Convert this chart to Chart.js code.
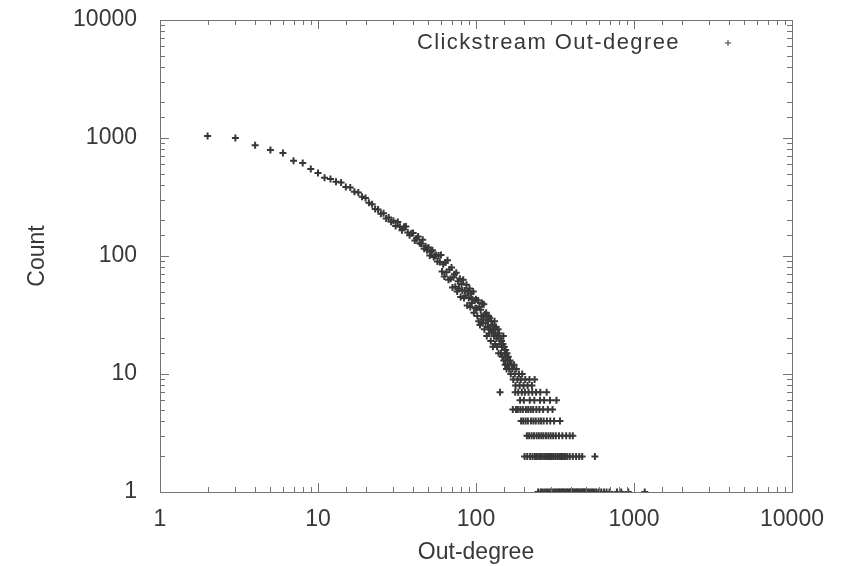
<!DOCTYPE html>
<html>
<head>
<meta charset="utf-8">
<script src="https://cdn.jsdelivr.net/npm/chart.js@4/dist/chart.umd.min.js"></script>
<style>
  html, body { margin: 0; padding: 0; background: #fff; }
  #chart { display: block; }
</style>
</head>
<body>
<canvas id="chart" width="842" height="566"></canvas>
<script>
// Out-degree 2..100, one count per degree
const headDegree = [
    2, 3, 4, 5, 6, 7, 8, 9, 10, 11, 12, 13, 14, 15, 16, 17, 18, 19, 20,
    21, 22, 23, 24, 25, 26, 27, 28, 29, 30, 31, 32, 33, 34, 35, 36, 37, 38, 39, 40,
    41, 42, 43, 44, 45, 46, 47, 48, 49, 50, 51, 52, 53, 54, 55, 56, 57, 58, 59, 60,
    61, 62, 63, 64, 65, 66, 67, 68, 69, 70, 71, 72, 73, 74, 75, 76, 77, 78, 79, 80,
    81, 82, 83, 84, 85, 86, 87, 88, 89, 90, 91, 92, 93, 94, 95, 96, 97, 98, 99, 100
];
const headCount = [
    1040, 1000, 870, 790, 745, 640, 615, 545, 505, 460, 450, 425, 420, 385, 380, 350, 345, 318, 310,
    282, 275, 250, 248, 228, 230, 208, 212, 195, 199, 180, 194, 177, 165, 177, 178, 158, 150, 156, 157,
    135, 141, 146, 128, 127, 137, 115, 121, 112, 118, 101, 109, 112, 98, 100, 102, 90, 101, 89, 102,
    74, 85, 67, 88, 73, 92, 63, 77, 64, 80, 54, 66, 70, 55, 72, 50, 61, 53, 64, 45,
    58, 51, 63, 44, 51, 46, 57, 38, 50, 44, 53, 37, 48, 40, 43, 50, 33, 42, 36, 43
];

// Out-degree 101..235, counts above the integer rows
const midDegree = [
    101, 102, 103, 104, 105, 106, 107, 108, 109, 110, 111, 112, 113, 114, 115, 116, 117, 118, 119, 120,
    121, 122, 123, 124, 125, 126, 127, 128, 129, 130, 131, 132, 133, 134, 135, 136, 137, 138, 139, 140,
    141, 142, 143, 144, 145, 146, 147, 148, 149, 150, 151, 152, 153, 154, 155, 156, 157, 158, 159, 160,
    162, 164, 166, 168, 170, 172, 174, 176, 178, 180, 183, 187, 189, 192, 196, 200, 205, 212, 218, 226, 235
];
const midCount = [
    36, 31, 42, 28, 37, 26, 35, 31, 40, 27, 29, 39, 24, 32, 27, 33, 21, 29, 25, 31,
    22, 30, 24, 19, 28, 23, 26, 17, 24, 21, 28, 18, 22, 25, 20, 17, 21, 24, 15, 22,
    18, 7, 20, 15, 19, 17, 14, 18, 21, 13, 17, 15, 12, 16, 14, 11, 15, 13, 12, 14,
    11, 13, 10, 12, 11, 9, 12, 10, 8, 11, 9, 10, 8, 9, 10, 8, 9, 8, 9, 8, 9
];

// Degrees whose count is a small integer (the horizontal rows)
const tail7 = [177, 185, 195, 204, 215, 227, 240, 255, 280];
const tail6 = [190, 201, 219, 234, 254, 270, 294, 323];
const tail5 = [171, 179, 184, 191, 198, 207, 214, 222, 230, 241, 252, 266, 285, 305];
const tail4 = [193, 199, 206, 213, 223, 231, 239, 249, 258, 268, 281, 295, 312, 340];
const tail3 = [210, 217, 225, 233, 242, 250, 259, 267, 277, 287, 297, 308, 320, 335, 352, 372, 392, 410];
const tail2 = [
    203, 211, 220, 228, 236, 243, 251, 257, 264, 271, 278, 286, 294, 302, 310, 318, 327,
    336, 345, 355, 366, 378, 392, 410, 430, 450, 470, 566
];
const tail1 = [
    247, 256, 262, 270, 278, 285, 293, 300, 308, 315, 322, 330, 336, 342, 350, 356, 362, 370,
    377, 385, 392, 398, 405, 412, 420, 428, 435, 441, 450, 458, 466, 474, 482, 490, 500, 512,
    525, 538, 550, 565, 580, 600, 620, 645, 670, 700, 780, 830, 920, 1170
];

const tickValues = [1, 10, 100, 1000, 10000];
const tickLabels = ["1", "10", "100", "1000", "10000"];

const points = [];
headDegree.forEach((d, i) => points.push({ x: d, y: headCount[i] }));
midDegree.forEach((d, i) => points.push({ x: d, y: midCount[i] }));
[[7, tail7], [6, tail6], [5, tail5], [4, tail4], [3, tail3], [2, tail2], [1, tail1]]
    .forEach(([c, degs]) => degs.forEach(d => points.push({ x: d, y: c })));

const INK = "#383838";
const FRAME = "#747474";
const FONT = "'Liberation Sans', Arial, sans-serif";

// gnuplot-like frame: box with inward ticks on all four sides, plus key
const frameTicks = {
    id: "frameTicks",
    afterDatasetsDraw(chart) {
        const { ctx, chartArea: a, scales: { x, y } } = chart;
        ctx.save();
        ctx.strokeStyle = FRAME;
        ctx.lineWidth = 1;
        ctx.beginPath();
        x.ticks.forEach(t => {
            const px = Math.round(x.getPixelForValue(t.value)) + 0.5;
            const len = tickValues.includes(t.value) ? 9 : 5;
            ctx.moveTo(px, a.bottom); ctx.lineTo(px, a.bottom - len);
            ctx.moveTo(px, a.top); ctx.lineTo(px, a.top + len);
        });
        y.ticks.forEach(t => {
            const py = Math.round(y.getPixelForValue(t.value)) + 0.5;
            const len = tickValues.includes(t.value) ? 9 : 5;
            ctx.moveTo(a.left, py); ctx.lineTo(a.left + len, py);
            ctx.moveTo(a.right, py); ctx.lineTo(a.right - len, py);
        });
        ctx.stroke();
        ctx.strokeRect(Math.round(a.left) + 0.5, Math.round(a.top) + 0.5,
            Math.round(a.width), Math.round(a.height));

        // key in the top right corner
        const ds = chart.data.datasets[0];
        const ky = a.top + 23;
        ctx.fillStyle = INK;
        ctx.font = "22px " + FONT;
        ctx.letterSpacing = "1.4px";
        ctx.textAlign = "right";
        ctx.textBaseline = "middle";
        ctx.fillText(ds.label, a.right - 112, ky);
        ctx.letterSpacing = "0px";
        ctx.strokeStyle = INK;
        Chart.helpers.drawPoint(ctx, {
            pointStyle: ds.pointStyle,
            radius: 3,
            borderWidth: 1.5
        }, a.right - 64, ky);
        ctx.restore();
    }
};

const axisFont = { family: FONT, size: 23 };

new Chart(document.getElementById("chart"), {
    type: "scatter",
    data: {
        datasets: [{
            label: "Clickstream Out-degree",
            data: points,
            pointStyle: "cross",
            pointRadius: 3.5,
            borderWidth: 2,
            borderColor: INK,
            backgroundColor: INK,
        }]
    },
    options: {
        responsive: false,
        animation: false,
        layout: { padding: { top: 20, right: 50, bottom: 0, left: 0 } },
        plugins: {
            legend: { display: false },
            tooltip: { enabled: false }
        },
        scales: {
            x: {
                type: "logarithmic",
                min: 1,
                max: 10000,
                grid: { display: false, drawTicks: false },
                border: { display: false },
                afterFit: s => {
                    s.height = 74;
                    s.paddingLeft = 0;
                    s.paddingRight = 0;
                },
                ticks: {
                    autoSkip: false,
                    maxRotation: 0,
                    padding: 14,
                    color: INK,
                    font: axisFont,
                    callback: v => {
                        const i = tickValues.indexOf(v);
                        return i >= 0 ? tickLabels[i] : "";
                    }
                },
                title: {
                    display: true,
                    text: "Out-degree",
                    color: INK,
                    font: axisFont,
                    padding: { top: 2, bottom: 0 }
                }
            },
            y: {
                type: "logarithmic",
                min: 1,
                max: 10000,
                grid: { display: false, drawTicks: false },
                border: { display: false },
                afterFit: s => {
                    s.width = 160;
                    s.paddingTop = 0;
                    s.paddingBottom = 0;
                },
                ticks: {
                    autoSkip: false,
                    padding: 23,
                    color: INK,
                    font: axisFont,
                    callback: v => {
                        const i = tickValues.indexOf(v);
                        return i >= 0 ? tickLabels[i] : "";
                    }
                },
                title: {
                    display: true,
                    text: "Count",
                    color: INK,
                    font: axisFont,
                    padding: { top: 24, bottom: 0 }
                }
            }
        }
    },
    plugins: [frameTicks]
});
</script>
</body>
</html>
